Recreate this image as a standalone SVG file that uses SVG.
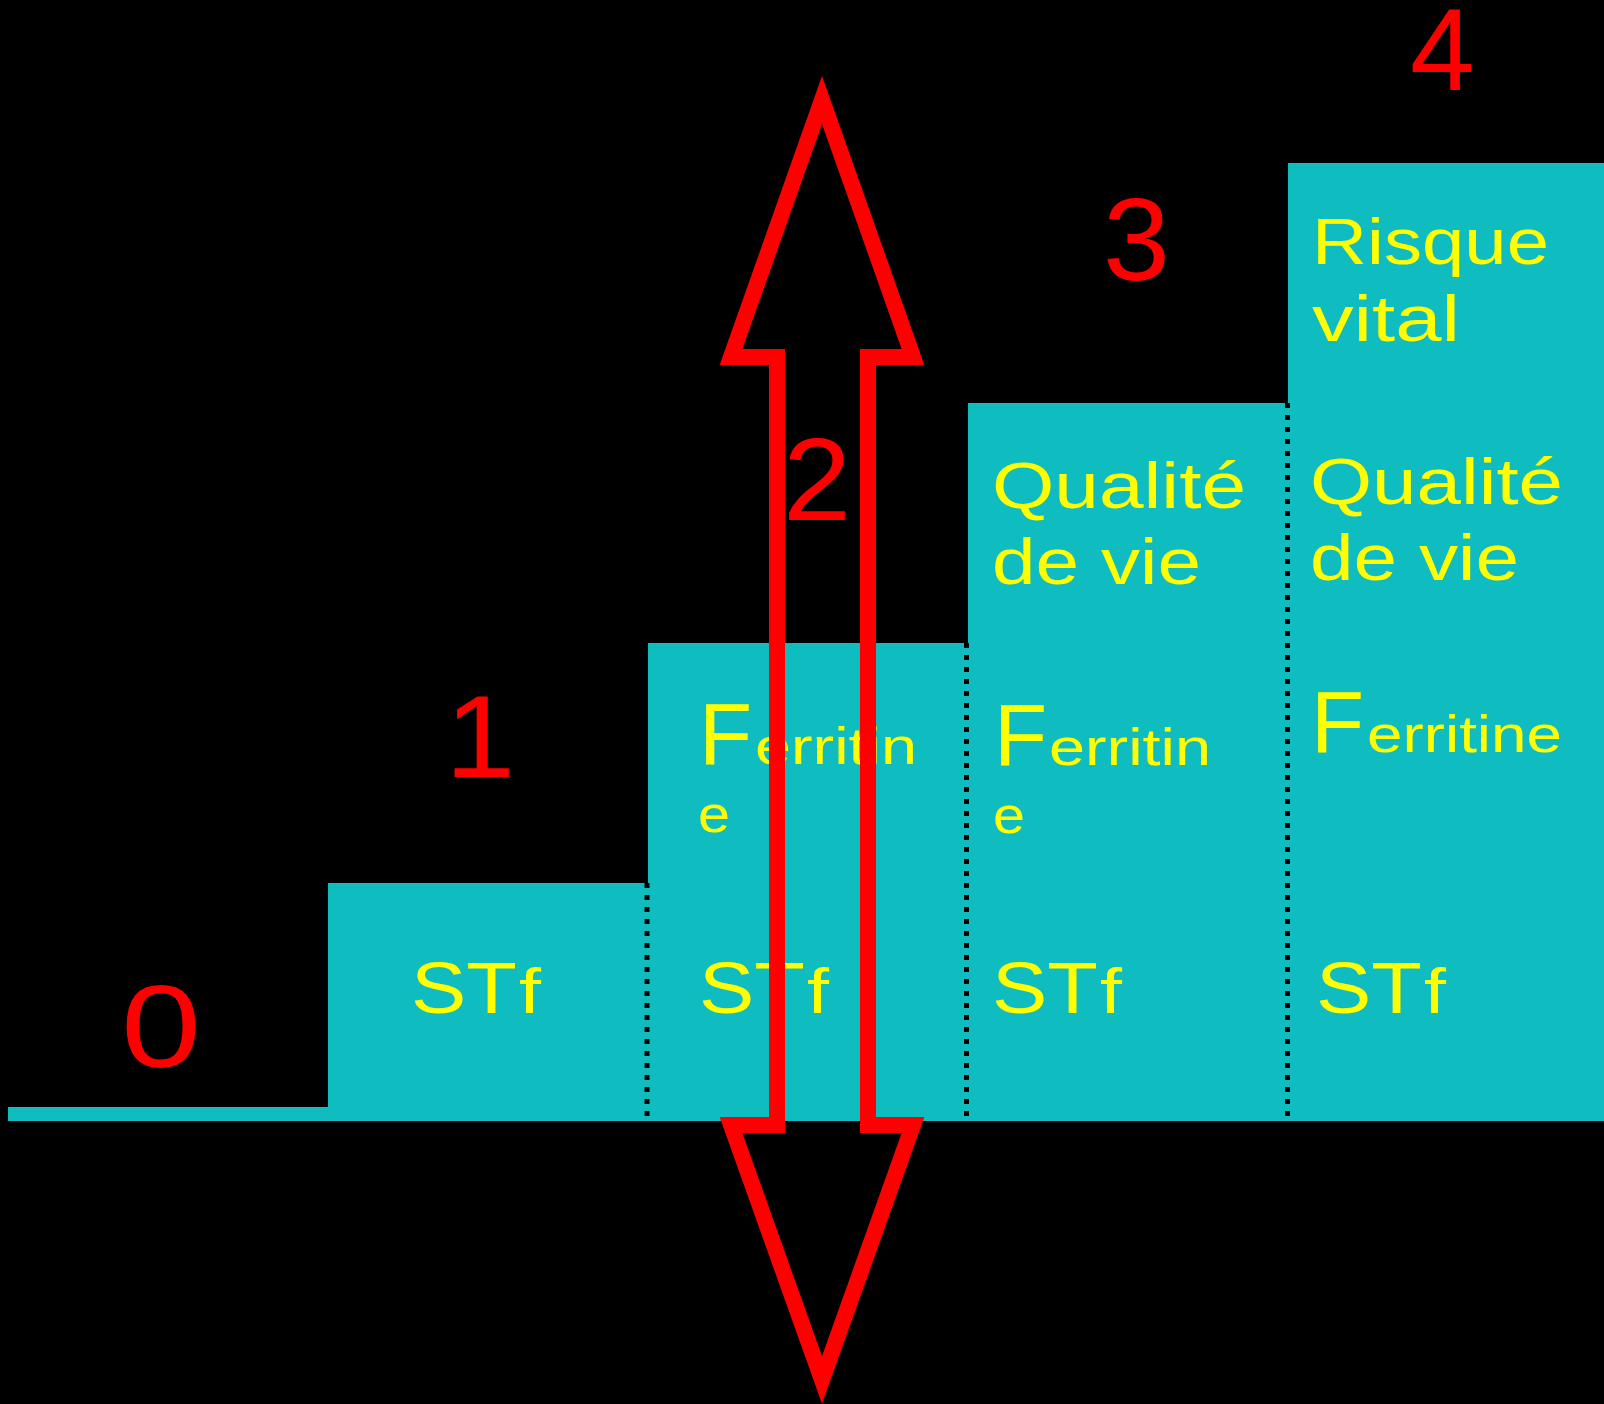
<svg xmlns="http://www.w3.org/2000/svg" width="1604" height="1404" viewBox="0 0 1604 1404">
<style>
.bg{fill:#000000}
.step{fill:#0FBCC0}
.sep{stroke:#000000;stroke-width:5;stroke-dasharray:5 7;fill:none}
.num{fill:#FF0000;font-family:"Liberation Sans",Arial,sans-serif;font-size:116px}
.lbl{fill:#FFFF00;font-family:"Liberation Sans",Arial,sans-serif}
.big{font-size:65px}
.st{font-size:73px}
.f{font-size:63px}
.F{font-size:87px}
.sm{font-size:52px}
.arrow{fill:none;stroke:#FF0000;stroke-width:16;stroke-miterlimit:10}
</style>
<rect class="bg" x="0" y="0" width="1604" height="1404"/>
<g id="level0">
  <rect class="step" x="8" y="1107" width="1596" height="14"/>
  <text class="num" x="121" y="1067" textLength="80" lengthAdjust="spacingAndGlyphs">0</text>
</g>
<g id="level1">
  <rect class="step" x="328" y="883" width="320" height="238"/>
  <text class="num" x="445" y="777" textLength="70" lengthAdjust="spacingAndGlyphs">1</text>
  <text class="lbl st" x="411" y="1013" textLength="106" lengthAdjust="spacingAndGlyphs">ST</text>
  <text class="lbl f" x="519" y="1013" textLength="22" lengthAdjust="spacingAndGlyphs">f</text>
</g>
<g id="level2">
  <rect class="step" x="648" y="643" width="320" height="478"/>
  <text class="num" x="783" y="520" textLength="68" lengthAdjust="spacingAndGlyphs">2</text>
  <text class="lbl F" x="699" y="764">F</text>
  <text class="lbl sm" x="755" y="764" textLength="162" lengthAdjust="spacingAndGlyphs">erritin</text>
  <text class="lbl sm" x="698" y="832" textLength="32" lengthAdjust="spacingAndGlyphs">e</text>
  <text class="lbl st" x="699" y="1013" textLength="106" lengthAdjust="spacingAndGlyphs">ST</text>
  <text class="lbl f" x="807" y="1013" textLength="22" lengthAdjust="spacingAndGlyphs">f</text>
</g>
<g id="level3">
  <rect class="step" x="968" y="403" width="320" height="718"/>
  <text class="num" x="1103" y="280" textLength="67" lengthAdjust="spacingAndGlyphs">3</text>
  <text class="lbl big" x="992" y="508" textLength="254" lengthAdjust="spacingAndGlyphs">Qualité</text>
  <text class="lbl big" x="992" y="584" textLength="209" lengthAdjust="spacingAndGlyphs">de vie</text>
  <text class="lbl F" x="994" y="765">F</text>
  <text class="lbl sm" x="1049" y="765" textLength="162" lengthAdjust="spacingAndGlyphs">erritin</text>
  <text class="lbl sm" x="993" y="833" textLength="32" lengthAdjust="spacingAndGlyphs">e</text>
  <text class="lbl st" x="992" y="1013" textLength="106" lengthAdjust="spacingAndGlyphs">ST</text>
  <text class="lbl f" x="1100" y="1013" textLength="22" lengthAdjust="spacingAndGlyphs">f</text>
</g>
<g id="level4">
  <rect class="step" x="1288" y="163" width="316" height="958"/>
  <text class="num" x="1410" y="90">4</text>
  <text class="lbl big" x="1312" y="264" textLength="237" lengthAdjust="spacingAndGlyphs">Risque</text>
  <text class="lbl big" x="1312" y="341" textLength="148" lengthAdjust="spacingAndGlyphs">vital</text>
  <text class="lbl big" x="1310" y="504" textLength="253" lengthAdjust="spacingAndGlyphs">Qualité</text>
  <text class="lbl big" x="1310" y="580" textLength="209" lengthAdjust="spacingAndGlyphs">de vie</text>
  <text class="lbl F" x="1311" y="752">F</text>
  <text class="lbl sm" x="1367" y="752" textLength="195" lengthAdjust="spacingAndGlyphs">erritine</text>
  <text class="lbl st" x="1316" y="1013" textLength="106" lengthAdjust="spacingAndGlyphs">ST</text>
  <text class="lbl f" x="1424" y="1013" textLength="22" lengthAdjust="spacingAndGlyphs">f</text>
</g>
<g id="separators">
  <line class="sep" x1="647" y1="883" x2="647" y2="1117"/>
  <line class="sep" x1="966.5" y1="643" x2="966.5" y2="1117"/>
  <line class="sep" x1="1287.5" y1="403" x2="1287.5" y2="1117"/>
</g>
<g id="connectors">
  <polygon class="arrow" points="822,100 913,357 868,357 868,1125 913,1125 822,1380 731,1125 777,1125 777,357 731,357"/>
</g>
</svg>
